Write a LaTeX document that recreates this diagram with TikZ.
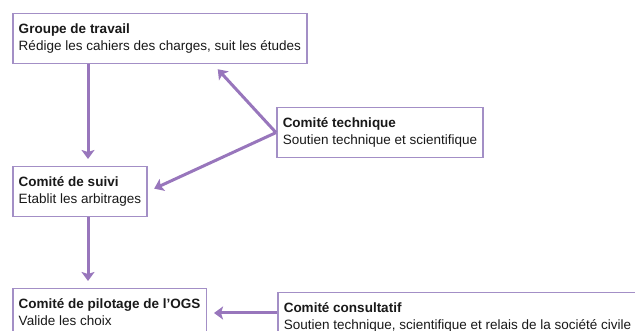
\documentclass[tikz,border=0pt]{standalone}
\usepackage{fontspec}
\setmainfont{Liberation Sans}
\usetikzlibrary{arrows.meta}
\definecolor{boxline}{RGB}{163,143,198}
\definecolor{arrowline}{RGB}{152,118,188}
\definecolor{txt}{RGB}{25,25,25}
\tikzset{
  comite/.style={draw=boxline, line width=1.5pt, fill=white, align=left, anchor=north west,
    inner xsep=6pt, inner ysep=10pt, text=txt, font=\fontsize{13.5}{17}\selectfont},
  lien/.style={draw=arrowline, line width=3pt, -{Stealth[length=9pt,width=13pt,inset=2pt]}, shorten >=7pt}
}
\begin{document}
\begin{tikzpicture}[x=1pt,y=-1pt]
    \clip (0,0) rectangle (635,331);
    \node[comite] (groupe) at (12,13) {\textbf{Groupe de travail}\\Rédige les cahiers des charges, suit les études};
    \node[comite] (technique) at (276,107) {\textbf{Comité technique}\\Soutien technique et scientifique};
    \node[comite] (suivi) at (12,166) {\textbf{Comité de suivi}\\Etablit les arbitrages};
    \node[comite] (pilotage) at (12,288) {\textbf{Comité de pilotage de l'OGS}\\Valide les choix};
    \node[comite] (consultatif) at (277,292) {\textbf{Comité consultatif}\\Soutien technique, scientifique et relais de la société civile};
    \coordinate (entree) at ([yshift=-21pt]consultatif.north west);
    \draw[lien] ([xshift=76pt]groupe.south west) -- ([xshift=76pt]suivi.north west);
    \draw[lien] ([xshift=76pt]suivi.south west) -- ([xshift=76pt]pilotage.north west);
    \draw[lien] (technique.west) -- ([xshift=201pt]groupe.south west);
    \draw[lien] (technique.west) -- (suivi.east);
    \draw[lien] (entree) -- (entree -| pilotage.east);
\end{tikzpicture}
\end{document}
